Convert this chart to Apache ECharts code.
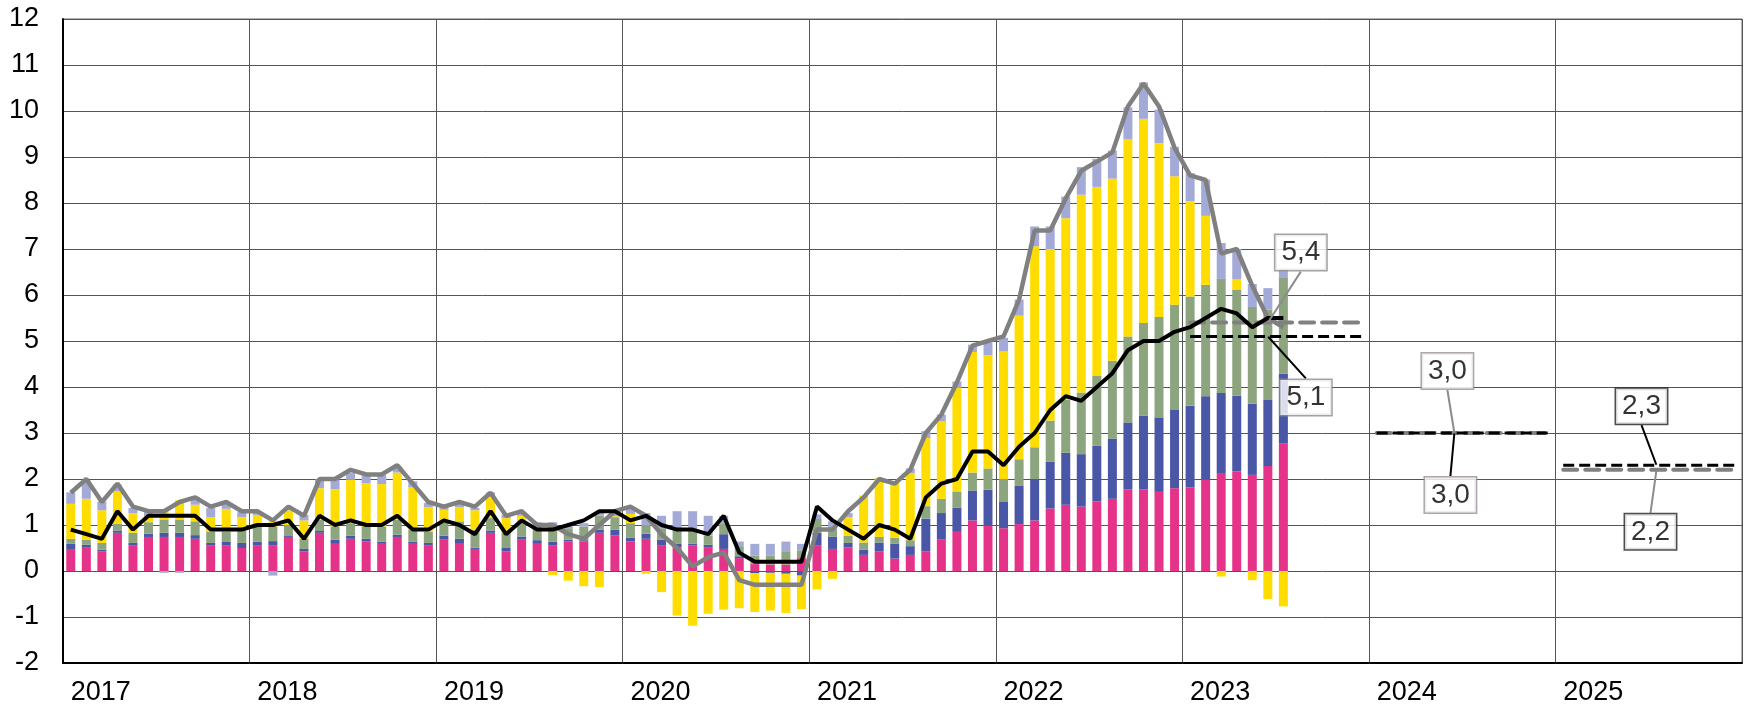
<!DOCTYPE html>
<html>
<head>
<meta charset="utf-8">
<script src="https://cdn.jsdelivr.net/npm/echarts@6/dist/echarts.min.js"></script>
<style>
  html, body { margin: 0; padding: 0; background: #fff; }
  #chart { width: 1746px; height: 707px; }
</style>
</head>
<body>
<div id="chart"></div>
<script>
// years on the axis, months are built from them
const years = ['2017', '2018', '2019', '2020', '2021', '2022', '2023', '2024', '2025']

// contributions, Jan 2017 .. Jul 2023
const pink = [
  0.46, 0.52, 0.43, 0.83, 0.55, 0.74, 0.74, 0.74, 0.70, 0.55, 0.55, 0.50,
  0.55, 0.55, 0.74, 0.43, 0.83, 0.59, 0.70, 0.64, 0.59, 0.74, 0.59, 0.55,
  0.68, 0.59, 0.48, 0.83, 0.43, 0.68, 0.59, 0.55, 0.64, 0.64, 0.83, 0.77,
  0.64, 0.70, 0.55, 0.51, 0.56, 0.52, 0.48, 0.28, 0.15, 0.14, 0.14, 0.28,
  0.55, 0.48, 0.51, 0.35, 0.43, 0.27, 0.35, 0.43, 0.68, 0.85, 1.10, 0.99,
  0.93, 1.02, 1.10, 1.36, 1.44, 1.40, 1.51, 1.57, 1.77, 1.77, 1.72, 1.80,
  1.82, 1.99, 2.13, 2.17, 2.09, 2.28, 2.77
]
const blue = [
  0.13, 0.05, 0.03, 0.05, 0.06, 0.07, 0.09, 0.09, 0.08, 0.06, 0.08, 0.11,
  0.09, 0.10, 0.02, 0.05, 0.04, 0.09, 0.07, 0.06, 0.05, 0.05, 0.05, 0.06,
  0.09, 0.11, 0.03, 0.05, 0.07, 0.07, 0.08, 0.09, 0.04, 0.03, 0.07, 0.13,
  0.08, 0.11, 0.13, 0.08, 0.03, 0.05, 0.32, 0.04, -0.05, -0.04, -0.06, -0.10,
  0.28, 0.27, 0.10, 0.11, 0.19, 0.32, 0.19, 0.71, 0.58, 0.53, 0.65, 0.78,
  0.57, 0.84, 0.90, 1.02, 1.13, 1.14, 1.21, 1.31, 1.46, 1.61, 1.62, 1.70,
  1.77, 1.81, 1.74, 1.64, 1.55, 1.44, 1.52
]
const green = [
  0.11, 0.11, 0.15, 0.15, 0.22, 0.25, 0.29, 0.29, 0.30, 0.25, 0.23, 0.29,
  0.33, 0.32, 0.24, 0.22, 0.25, 0.29, 0.27, 0.27, 0.33, 0.33, 0.26, 0.25,
  0.28, 0.38, 0.39, 0.27, 0.33, 0.31, 0.30, 0.33, 0.25, 0.30, 0.30, 0.27,
  0.32, 0.19, 0.25, 0.32, 0.31, 0.20, 0.24, 0.22, 0.18, 0.19, 0.29, 0.17,
  0.30, 0.16, 0.16, 0.16, 0.12, 0.13, 0.13, 0.27, 0.31, 0.35, 0.39, 0.46,
  0.50, 0.57, 0.69, 0.89, 1.15, 1.34, 1.53, 1.69, 1.87, 2.01, 2.18, 2.29,
  2.38, 2.42, 2.48, 2.31, 2.10, 1.96, 2.08
]
const yellow = [
  0.76, 0.89, 0.71, 0.70, 0.43, 0.13, 0.20, 0.42, 0.36, 0.31, 0.49, 0.27,
  0.25, 0.11, 0.32, 0.40, 0.68, 0.81, 0.95, 0.94, 0.92, 1.02, 0.92, 0.53,
  0.28, 0.31, 0.42, 0.49, 0.32, 0.14, 0, -0.09, -0.21, -0.33, -0.35, 0.02,
  0.20, -0.06, -0.46, -0.97, -1.19, -0.93, -0.84, -0.81, -0.84, -0.82, -0.85, -0.73,
  -0.40, -0.17, 0.40, 1.02, 1.28, 1.19, 1.46, 1.48, 1.68, 2.25, 2.62, 2.46,
  2.78, 3.12, 4.37, 3.73, 3.95, 4.30, 4.10, 3.96, 4.29, 4.44, 3.78, 2.79,
  2.07, 1.50, -0.12, 0.22, -0.20, -0.61, -0.77
]
const lavender = [
  0.25, 0.40, 0.19, 0.15, 0.11, 0.10, -0.04, -0.04, 0.17, 0.20, 0.09, 0.11,
  0.05, -0.10, 0.05, 0.12, 0.19, 0.21, 0.14, 0.18, 0.20, 0.14, 0.13, 0.09,
  0.07, 0.10, 0.05, 0.07, 0.07, 0.06, 0.09, 0.09, 0.06, 0.07, 0.06, 0.05,
  0.15, 0.26, 0.27, 0.39, 0.40, 0.43, 0.16, 0.10, 0.26, 0.26, 0.21, 0.14,
  0.10, 0.17, 0.09, 0, 0, 0.03, 0.10, 0.15, 0.15, 0.14, 0.16, 0.28,
  0.29, 0.35, 0.43, 0.49, 0.47, 0.60, 0.61, 0.61, 0.69, 0.79, 0.73, 0.64,
  0.61, 0.79, 0.78, 0.66, 0.50, 0.47, 0.20
]

// headline (grey) and core (black) lines
const headline = [
  1.7, 2.0, 1.5, 1.9, 1.4, 1.3, 1.3, 1.5, 1.6, 1.4, 1.5, 1.3,
  1.3, 1.1, 1.4, 1.2, 2.0, 2.0, 2.2, 2.1, 2.1, 2.3, 1.9, 1.5,
  1.4, 1.5, 1.4, 1.7, 1.2, 1.3, 1.0, 1.0, 0.8, 0.7, 1.0, 1.3,
  1.4, 1.2, 0.8, 0.5, 0.1, 0.3, 0.4, -0.2, -0.3, -0.3, -0.3, -0.3,
  0.9, 0.9, 1.3, 1.6, 2.0, 1.9, 2.2, 3.0, 3.4, 4.1, 4.9, 5.0,
  5.1, 5.9, 7.4, 7.4, 8.1, 8.7, 8.9, 9.1, 10.1, 10.6, 10.1, 9.2,
  8.6, 8.5, 6.9, 7.0, 6.2, 5.5, 5.3
]
const core = [
  0.9, 0.8, 0.7, 1.3, 0.9, 1.2, 1.2, 1.2, 1.2, 0.9, 0.9, 0.9,
  1.0, 1.0, 1.1, 0.7, 1.2, 1.0, 1.1, 1.0, 1.0, 1.2, 0.9, 0.9,
  1.1, 1.0, 0.8, 1.3, 0.8, 1.1, 0.9, 0.9, 1.0, 1.1, 1.3, 1.3,
  1.1, 1.2, 1.0, 0.9, 0.9, 0.8, 1.2, 0.4, 0.2, 0.2, 0.2, 0.2,
  1.4, 1.1, 0.9, 0.7, 1.0, 0.9, 0.7, 1.6, 1.9, 2.0, 2.6, 2.6,
  2.3, 2.7, 3.0, 3.5, 3.8, 3.7, 4.0, 4.3, 4.8, 5.0, 5.0, 5.2,
  5.3, 5.5, 5.7, 5.6, 5.3, 5.5, 5.5
]

// yearly forecasts
const forecastYears = ['2023', '2024', '2025']
const headlineForecast = [5.4, 3.0, 2.2]
const coreForecast = [5.1, 3.0, 2.3]

// boxed labels: [month, value, text, kind]
const boxLabels = [
  ['2023-06', 5.4, '5,4', 'grey'],
  ['2023-06', 5.1, '5,1', 'black'],
  ['2024-06', 3.0, '3,0', 'grey'],
  ['2024-06', 3.0, '3,0', 'black'],
  ['2025-07', 2.3, '2,3', 'black'],
  ['2025-07', 2.2, '2,2', 'grey']
]

const months = []
years.forEach(y => {
  for (let m = 1; m <= 12; m++) months.push(y + '-' + (m < 10 ? '0' + m : m))
})

const myChart = echarts.init(document.getElementById('chart'))

const font = 'Liberation Sans, Arial, sans-serif'
const barColors = ['#E6338A', '#4A56A6', '#8CA57E', '#FFDD00', '#A4AAD8']
const barData = [pink, blue, green, yellow, lavender]

const series = []
barData.forEach((d, i) => {
  series.push({
    type: 'bar',
    stack: 'c',
    barWidth: 9,
    data: d,
    itemStyle: { color: barColors[i] },
    emphasis: { disabled: true }
  })
})
series.push({
  type: 'line',
  data: headline,
  symbol: 'none',
  lineStyle: { color: '#808080', width: 4.5 },
  z: 3
})
series.push({
  type: 'line',
  data: core,
  symbol: 'none',
  lineStyle: { color: '#000', width: 4 },
  z: 4
})

// forecast segments, one per year
forecastYears.forEach((y, k) => {
  const mk = v => months.map(m => (m.slice(0, 4) === y ? v : null))
  series.push({
    type: 'line',
    data: mk(headlineForecast[k]),
    symbol: 'none',
    lineStyle: { color: '#808080', width: 4, type: [14, 8], cap: 'round' },
    z: 3
  })
  series.push({
    type: 'line',
    data: mk(coreForecast[k]),
    symbol: 'none',
    lineStyle: { color: '#000', width: 3, type: [11, 5] },
    z: 4
  })
})

// label offsets (pixels) for each box
const offsets = [[33, -70], [38, 61], [-7, -62], [-4, 62], [-15, -59], [-6, 62]]
const borders = ['#8c8c8c', '#8c8c8c', '#9a8f9a', '#9a8f9a', '#222', '#222']

boxLabels.forEach((b, i) => {
  const leader = b[3] === 'grey' ? '#8c8c8c' : '#000'
  series.push({
    type: 'scatter',
    data: [[b[0], b[1]]],
    symbolSize: 1,
    itemStyle: { color: 'rgba(0,0,0,0)' },
    z: 10,
    label: {
      show: true,
      position: 'inside',
      formatter: b[2],
      fontFamily: font,
      fontSize: 28,
      lineHeight: 28,
      color: '#000',
      backgroundColor: '#fff',
      borderColor: borders[i],
      borderWidth: 1.5,
      padding: [4, 6, 3, 6]
    },
    labelLayout: { dx: offsets[i][0], dy: offsets[i][1] },
    labelLine: { show: true, lineStyle: { color: leader, width: 2 } }
  })
})

const option = {
  animation: false,
  grid: {
    left: 63,
    right: 4,
    top: 19,
    bottom: 44,
    show: true,
    borderColor: '#666',
    borderWidth: 1
  },
  xAxis: {
    type: 'category',
    data: months,
    boundaryGap: true,
    axisLine: { onZero: false, lineStyle: { color: '#000', width: 2 } },
    axisTick: { show: false },
    axisLabel: {
      interval: 0,
      formatter: v => (v.slice(5) === '01' ? v.slice(0, 4) : ''),
      align: 'left',
      margin: 16,
      color: '#000',
      fontFamily: font,
      fontSize: 27
    },
    splitLine: {
      show: true,
      interval: i => i % 12 === 0,
      lineStyle: { color: '#555', width: 1 }
    }
  },
  yAxis: {
    type: 'value',
    min: -2,
    max: 12,
    interval: 1,
    axisLine: { show: true, lineStyle: { color: '#000', width: 2 } },
    axisTick: { show: false },
    axisLabel: {
      margin: 24,
      color: '#000',
      fontFamily: font,
      fontSize: 27
    },
    splitLine: { lineStyle: { color: '#555', width: 1 } }
  },
  series: series
}

myChart.setOption(option)
</script>
</body>
</html>
